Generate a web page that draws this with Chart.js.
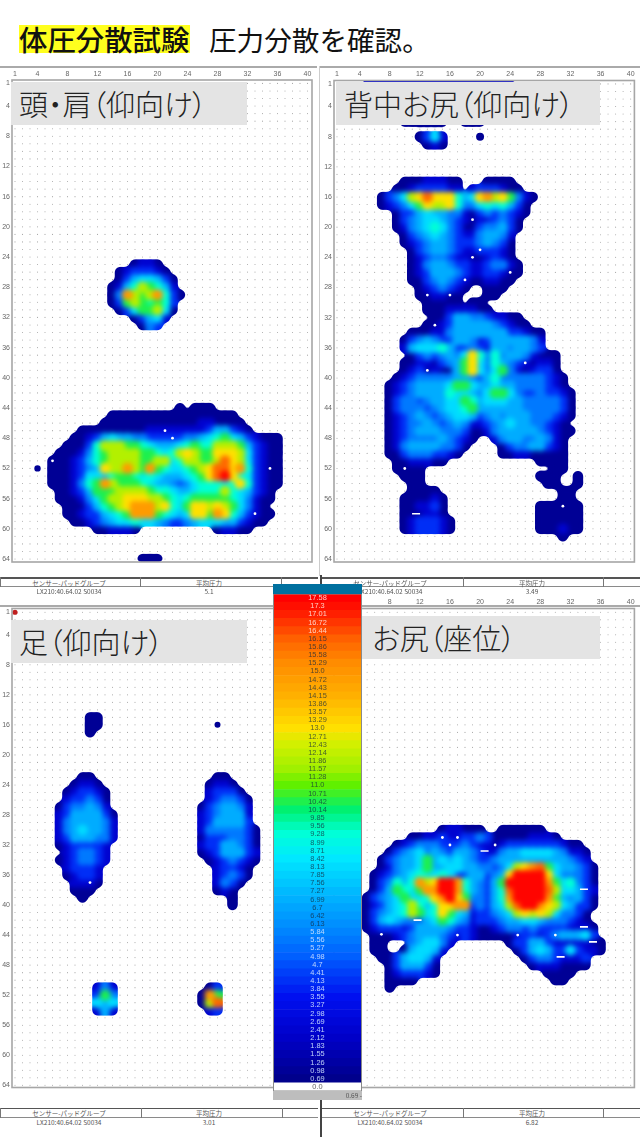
<!DOCTYPE html>
<html lang="ja"><head><meta charset="utf-8">
<script src="https://cdn.jsdelivr.net/npm/chart.js@4"></script>
<style>
html,body{margin:0;padding:0;background:#fff}
#page{position:relative;width:640px;height:1137px;overflow:hidden;background:#fff;font-family:"Noto Sans CJK JP","Noto Sans",sans-serif;filter:blur(.4px)}
#page canvas{position:absolute;display:block}
.abs{position:absolute;white-space:nowrap}
.lab{position:absolute;background:#e4e4e4;color:#222;font-size:29px;font-weight:300;line-height:43px;font-feature-settings:"palt";white-space:nowrap;z-index:3}
.ln{position:absolute;background:#666}
.tx{position:absolute;font-size:6.5px;line-height:8px;color:#555;transform:translateX(-50%);white-space:nowrap;font-family:"Noto Sans CJK JP",sans-serif;z-index:4}
</style></head><body>
<div id="page">
<div class="abs" style="left:19px;top:25px;width:171px;height:28px;background:#ffff1e"></div>
<div class="abs" style="left:19px;top:18px;font-size:28.4px;line-height:42px;color:#111;font-weight:500">体圧分散試験</div>
<div class="abs" style="left:209px;top:18px;font-size:27.6px;line-height:42px;color:#111">圧力分散を確認。</div>

<canvas id="cA" width="320" height="505" style="left:0;top:66px"></canvas>
<canvas id="cB" width="320" height="505" style="left:320px;top:66px"></canvas>
<canvas id="cC" width="320" height="510" style="left:0;top:594px"></canvas>
<canvas id="cD" width="320" height="510" style="left:320px;top:594px"></canvas>

<div class="lab" style="left:11px;top:82px;width:228px;padding-left:8px">頭・肩（仰向け）</div>
<div class="lab" style="left:336px;top:82px;width:256px;padding-left:8px">背中お尻（仰向け）</div>
<div class="lab" style="left:11px;top:620px;width:228px;padding-left:8px">足（仰向け）</div>
<div class="lab" style="left:362px;top:616px;width:228px;padding-left:10px">お尻（座位）</div>

<div id="tables"></div>

<div class="abs" style="left:273px;top:584px;width:89px;height:10px;background:#00709f;z-index:6"></div>
<canvas id="cL" width="89" height="497" style="left:273px;top:594px;z-index:6"></canvas>
<div class="abs" style="left:273px;top:1091px;width:89px;height:9px;background:#bdbdbd;z-index:6;font-size:6.5px;line-height:9px;color:#555;text-align:right">0.69 -</div>
</div>
<script>
const colTicks=[1,4,8,12,16,20,24,28,32,36,40];
const rowTicks=[1,4,8,12,16,20,24,28,32,36,40,44,48,52,56,60,64];
const legendLabels=["17.58","17.3","17.01","16.72","16.44","16.15","15.86","15.58","15.29","15.0","14.72","14.43","14.15","13.86","13.57","13.29","13.0","12.71","12.43","12.14","11.86","11.57","11.28","11.0","10.71","10.42","10.14","9.85","9.56","9.28","8.99","8.71","8.42","8.13","7.85","7.56","7.27","6.99","6.7","6.42","6.13","5.84","5.56","5.27","4.98","4.7","4.41","4.13","3.84","3.55","3.27","2.98","2.69","2.41","2.12","1.83","1.55","1.26","0.98","0.69","0.0"];
// pressure represented by each symbol used in the grids below
const pressureBySymbol={"1":0.9,"2":2.4,"3":4.1,"4":5.6,"5":6.9,"6":8.1,"7":9.3,"8":10.4,"9":11.9,"a":13,"b":14.8,"c":16,"d":17.5};
const colorStops=[[0.69,[0,0,140]],[2.12,[0,0,200]],[3.55,[0,16,240]],[5,[0,96,255]],[6.13,[0,144,255]],[7.27,[0,186,255]],[8.42,[0,232,255]],[9.28,[0,255,216]],[10.14,[0,240,112]],[11,[96,240,0]],[11.57,[160,240,0]],[12.43,[210,240,0]],[13,[255,224,0]],[14.15,[255,176,0]],[15.29,[255,140,0]],[16.15,[255,96,0]],[17,[255,32,0]],[17.58,[255,0,0]]];

// each entry: row, first column, pressure symbols for consecutive columns
const headShoulderCells=[
"25 17 1221","26 15 1233321","27 15 13566531","28 14 125798752","29 14 14b989b731","30 14 138987873","31 15 13688961","32 17 13562","33 18 143",
"44 23 1","44 25 111","45 14 11 11111 11111 11111","46 13 111 11111 11111 22111 1",
"47 10 1 11111 11122 22222 23553 21","48 9 11 23565 54433 33344 56786 53211 1","49 8 111 37999 88765 55678 77999 85321 1",
"50 7 1112 47899 99887 679a9 88aaa 96321 1","51 6 11123 57899 99889 96799 889ca 96321 1","52 6 11123 45a99 b98b8 76678 9acca b7321 1",
"53 6 11123 66578 87676 55567 8acda 76321 1","54 6 11124 78b98 88765 54346 77767 a7321 1","55 7 1123 58889 99987 76556 77797 65321",
"56 7 1112 46899 aaa99 87678 88887 64211","57 8 111 35789 abbb9 a768a a9a98 6421","58 8 112 33567 8bbb8 7656a a8ba7 53211",
"59 9 11 23456 67665 43345 66655 3211","60 12 1122 21","60 28 12211","64 18 111"];
const headShoulderSpots=[[4,52,3.2]];
const headShoulderSpecks=[[6,51],[21,47],[22,48],[35,52],[33,58]];

const backHipCells=[
"1 5 22222 22222 22222 22222","6 10 111111","6 18 111","8 12 1362","9 13 121",
"14 10 11122211","14 21 1111","15 9 112333322","15 19 2333211",
"16 7 1346 9acaa a756a b9a84 21","17 7 1234 68a99 a7446 76753 1","18 9 13 35655 44213 43432 1","19 9 13 45665 43212 23431","20 9 12 45676 43113 44531",
"21 10 1 34565 43224 5542","22 10 1 23455 43334 5431","23 11 13455 43223 3321","24 11 12344 32211 2321","25 11 12455 43322 34421","26 11 12355 54322 33211","27 11 11345 43211 2211",
"28 12 1234321","28 21 111","29 12 112211","29 21 11","30 13 11111","30 19 11","31 13 111222211","32 14 113554432211","33 13 11235555543211",
"34 11 11122 45555 55533 211","35 10 1 34543 35542 35555 542","36 10 2 56667 53343 25545 543","37 11 13434 546a7 47455 42111","38 10 1 12213 458a6 47543 21221","39 10 1 23121 158a6 46842 12331",
"40 9 12 34444 45543 57444 44432 1","41 8 123 45555 68865 56554 44432 1","42 8 123 45555 76654 68864 33433 21","43 8 134 43455 66875 66655 44444 31","44 8 134 44345 66785 55555 44444 31","45 8 123 45434 56653 45455 54443 21",
"46 8 123 44543 45422 34565 54432 1","47 8 123 45554 44311 24555 55432 11","48 8 12344 44543 21","48 22 2455445421","49 8 12455 55443 1","49 23 134455321","50 8 1134443321","50 23 112211111",
"51 9 1122211","51 28 1111","52 9 1111","52 30 11","53 10 111","53 28 111","53 33 1","54 11 11","54 29 11","54 33 1","55 11 1111","55 31 11","56 10 111121","56 31 11",
"57 10 112231","57 28 111111","58 10 111221","58 28 111111","59 10 1233321","59 28 111111","60 10 1233321","60 28 111211","61 31 1"];
const backHipSpots=[[20,8,4]];
const backHipSpecks=[[19,19],[20,23],[19,24],[24,26],[18,27],[13,29],[16,29],[14,33],[13,39],[26,38],[10,52],[31,57]];
const backHipDashes=[[11.5,58]];

const legCells=[
"15 11 11","16 11 11","17 11 1",
"23 10 11","24 9 1221","25 8 123321","26 8 233431","27 7 1344542","28 7 23555531","29 7 24555542","30 7 24565542","31 7 23555442","32 7 1233332","33 8 234432","34 7 1234432","35 8 23332","36 8 12332","37 9 2221","38 9 111","39 10 1",
"23 28 11","24 27 1221","25 27 23331","26 27 234431","27 26 1345542","28 26 2345552","29 26 2355553","30 26 24444431","31 26 13334431","32 26 23355431","33 26 12355532","34 27 1234321","35 28 23321","36 28 23431","37 28 2431","38 28 121","39 30 1","40 30 1",
"51 12 242","52 12 384","53 12 656","54 12 252",
"51 27 13","52 26 1b8","53 26 19c","54 27 23"];
const legSpots=[[28,16,3]];
const legSpecks=[[11,37]];

const seatCells=[
"30 15 122111","30 23 111111","31 11 11223 22334 31111 12221","32 9 12 34443 33432 21233 33333 211","33 8 134 56454 35543 22455 66665 4221",
"34 7 1345 56856 56543 34555 55555 5432","35 7 1245 56855 66554 43469 abc86 55431","36 6 12345 67667 63355 345ad ddda6 44431","37 6 13475 7b9ad db754 358dd dddb8 67431","38 6 13587 68bbd db754 357cd dddc9 66532",
"39 5 1 34568 667ab da844 357bd dddb8 54531","40 5 1 23567 9757a abb34 3569c ddba9 65331","41 5 1 34567 9867a 86523 34569 a9a96 4431","42 5 1 35654 43568 75423 33455 66544 4321","43 5 1 23332 35555 43321 12344 34333 32221",
"44 6 11123 45554 32321 11112 33234 55563","45 6 11","45 11 456642","45 24 13 35532 22221 1","46 6 11","46 10 156652","46 25 1 35653 36322 1","47 7 11","47 9 356652","47 26 134432223",
"48 8 1355531","48 27 12221111","49 8 1233321","49 29 1111","50 8 1111","50 30 11","51 8 1"];
const seatSpots=[];
const seatSpecks=[[6.9,43.9],[16,32],[17,31],[15,31],[22,32],[17,44],[25,44],[30,44]];
const seatDashes=[[20.6,32.8],[33.8,37.9],[33.8,42.9],[35,44.9],[30.7,46.9],[11.7,42]];

const sensorName="LX210:40.64.02 S0034";
const meanPressures=["5.1","3.49","3.01","6.82"];

function pressureColor(v){
  if(v<=0) return "#ffffff";
  if(v<=colorStops[0][0]) return "rgb("+colorStops[0][1]+")";
  for(let i=1;i<colorStops.length;i++){
    const a=colorStops[i-1],b=colorStops[i];
    if(v<=b[0]){const t=(v-a[0])/(b[0]-a[0]);
      return "rgb("+a[1].map((c,k)=>Math.round(c+(b[1][k]-c)*t)).join(",")+")";}
  }
  return "rgb(255,0,0)";
}
function decode(cells){
  const out=[];
  cells.forEach(s=>{const p=s.split(" ");const row=+p[0],start=+p[1];
    p.slice(2).join("").split("").forEach((ch,i)=>out.push({x:start+i,y:row,v:pressureBySymbol[ch]}));});
  return out.sort((a,b)=>a.v-b.v); // low pressure first so that high pressure paints on top
}
const sensorDots=[];
for(let r=1;r<=64;r++)for(let c=1;c<=40;c++)sensorDots.push({x:c,y:r});
const frame={id:"frame",afterDraw(ch){const a=ch.chartArea,c=ch.ctx;c.save();c.strokeStyle="#a6a6a6";c.lineWidth=1.6;c.strokeRect(a.left,a.top,a.right-a.left,a.bottom-a.top);c.restore();}};
// Soften the painted pressure cells into continuous contours, as the sensor software shows them.
const contour={id:"contour",
  beforeDatasetDraw(ch,args){ if(ch.data.datasets[args.index].label==="sensors"){ch.ctx.save();ch.ctx.globalCompositeOperation="destination-over";} },
  afterDatasetDraw(ch,args){
    const label=ch.data.datasets[args.index].label;
    if(label==="sensors"){ch.ctx.restore();return;}
    if(label!=="pressure")return;
    const a=ch.chartArea,x=Math.floor(a.left),y=Math.floor(a.top),w=Math.ceil(a.right-a.left),h=Math.ceil(a.bottom-a.top);
    const off=document.createElement("canvas");off.width=w;off.height=h;
    const o=off.getContext("2d",{willReadFrequently:true});
    o.filter="blur(2.6px)";o.drawImage(ch.canvas,x,y,w,h,0,0,w,h);o.filter="none";
    const im=o.getImageData(0,0,w,h),d=im.data;
    for(let i=3;i<d.length;i+=4){const v=(d[i]-120)*7+128;d[i]=v<0?0:v>255?255:v;}
    o.putImageData(im,0,0);
    const c=ch.ctx;c.save();c.setTransform(1,0,0,1,0,0);c.clearRect(x,y,w,h);c.drawImage(off,x,y);c.restore();
  }};

function panel(id,cells,spots,specks,dashes,opt){
  const heat=decode(cells);
  const datasets=[
    {label:"speck",data:specks.map(p=>({x:p[0],y:p[1]})),backgroundColor:"#fff",pointRadius:1.4,borderWidth:0,order:0,showLine:false},
    {label:"dash",data:dashes.map(p=>({x:p[0],y:p[1]})),pointStyle:"line",pointRadius:4,pointBorderColor:"#fff",pointBorderWidth:1.6,order:1,showLine:false},
    {label:"spot",data:spots.map(p=>({x:p[0],y:p[1]})),pointRadius:spots.map(p=>p[2]),pointBorderWidth:0,pointBackgroundColor:pressureColor(pressureBySymbol["1"]),order:2,showLine:false},
    {label:"sensors",data:sensorDots,pointRadius:.55,pointBorderWidth:0,pointBackgroundColor:"#a9a9a9",order:3,showLine:false},
    {label:"pressure",data:heat,pointRadius:5.6,pointBorderWidth:0,pointBackgroundColor:heat.map(p=>pressureColor(p.v)),order:4,showLine:false}
  ];
  if(opt.marker) datasets.unshift({label:"marker",data:[{x:1,y:1}],pointRadius:2.6,pointBorderWidth:0,pointBackgroundColor:"#c01f1f",order:0,showLine:false});
  new Chart(document.getElementById(id),{type:"scatter",data:{datasets},plugins:[contour,frame],options:{
    responsive:false,animation:false,events:[],
    layout:{padding:{right:opt.padR,bottom:opt.padB,left:0,top:0}},
    plugins:{legend:{display:false},tooltip:{enabled:false}},
    scales:{
      x:{type:"linear",position:"top",min:opt.xmin,max:opt.xmax,grid:{display:false,drawTicks:false},border:{display:false},
        afterBuildTicks:a=>{a.ticks=colTicks.map(v=>({value:v}));},
        afterFit:a=>{a.height=opt.topH;},
        ticks:{display:opt.showX,autoSkip:false,maxRotation:0,padding:2,color:"#666",font:{size:7,family:"Liberation Sans"}}},
      y:{type:"linear",reverse:true,min:opt.ymin,max:opt.ymax,grid:{display:false,drawTicks:false},border:{display:false},
        afterBuildTicks:a=>{a.ticks=rowTicks.map(v=>({value:v}));},
        afterFit:a=>{a.width=opt.leftW;},
        ticks:{autoSkip:false,padding:2,color:"#666",font:{size:7,family:"Liberation Sans"}}}
    }}});
}
panel("cA",headShoulderCells,headShoulderSpots,headShoulderSpecks,[],{padR:8,padB:9,topH:14,leftW:12,xmin:.6,xmax:40.6,ymin:.55,ymax:64.4,showX:true});
panel("cB",backHipCells,backHipSpots,backHipSpecks,backHipDashes,{padR:5,padB:9,topH:14.5,leftW:14,xmin:.6,xmax:40.5,ymin:.55,ymax:64.4,showX:true});
panel("cC",legCells,legSpots,legSpecks,[],{padR:8,padB:16.5,topH:14.5,leftW:12,xmin:.6,xmax:40.6,ymin:.5,ymax:64.3,showX:false,marker:true});
panel("cD",seatCells,seatSpots,seatSpecks,seatDashes,{padR:5,padB:16.5,topH:14.5,leftW:14,xmin:.6,xmax:40.5,ymin:.5,ymax:64.3,showX:true});

const legendText={id:"legendText",afterDatasetsDraw(ch){
  const c=ch.ctx,m=ch.getDatasetMeta(0),a=ch.chartArea;c.save();c.font="7.4px 'Liberation Sans'";c.textAlign="center";c.textBaseline="middle";
  legendLabels.forEach((t,i)=>{const v=parseFloat(t);
    c.fillStyle=v>=16.4?"rgba(255,225,215,.9)":v>=6.1?"rgba(20,40,60,.75)":v>0?"rgba(205,225,255,.9)":"#666";
    c.fillText(t,(a.left+a.right)/2,m.data[i].y);});
  c.strokeStyle="#8a8a8a";c.lineWidth=1;c.strokeRect(a.left+.5,a.top,a.right-a.left-1,a.bottom-a.top);c.restore();}};
new Chart(document.getElementById("cL"),{type:"bar",data:{labels:legendLabels,datasets:[{data:legendLabels.map(()=>1),
  backgroundColor:legendLabels.map(t=>pressureColor(parseFloat(t))),borderWidth:0,barPercentage:1,categoryPercentage:1}]},
  plugins:[legendText],options:{indexAxis:"y",responsive:false,animation:false,events:[],layout:{padding:0},
  plugins:{legend:{display:false},tooltip:{enabled:false}},
  scales:{x:{display:false,min:0,max:1},y:{display:false}}}});

// information tables under each panel
const T=document.getElementById("tables");
function box(l,t,w,h,col){const d=document.createElement("div");d.className="ln";d.style.cssText=`left:${l}px;top:${t}px;width:${w}px;height:${h}px;background:${col}`;T.appendChild(d);}
function txt(x,y,s){const d=document.createElement("div");d.className="tx";d.style.left=x+"px";d.style.top=y+"px";d.textContent=s;T.appendChild(d);}
function table(left,w,y,c1,c2,c3,val,cx1,cx2){
  box(left,y,w,1.6,"#555");box(left,y+9,w,1,"#8a8a8a");box(c1,y,1,10,"#777");box(c2,y,1,10,"#777");box(c3,y,1,10,"#777");
  txt(cx1,y+1.5,"センサー-パッドグループ");txt(cx2,y+1.5,"平均圧力");txt(cx1,y+10,sensorName);txt(cx2,y+10,val);
}
table(0,318,577,0,140,281,meanPressures[0],69,209);
table(320,320,577,321,463,603,meanPressures[1],390,532);
table(0,318,1107.5,0,141,282,meanPressures[2],69,209);
table(320,320,1107.5,321,463,603,meanPressures[3],390,532);
box(0,605,320,1.5,"#aaa");box(320,605,320,1.5,"#aaa");
box(0,66,317,1.5,"#aaa");box(320,66,320,1.5,"#aaa");
box(320,1100,1.5,37,"#444");box(320,575,1.5,9,"#444");box(318.5,66,1.2,510,"#ccc");
</script>
</body></html>
